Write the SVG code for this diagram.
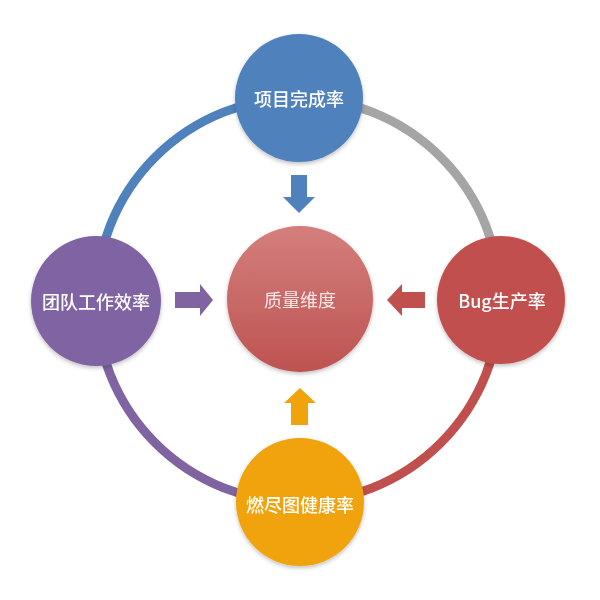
<svg xmlns="http://www.w3.org/2000/svg" width="600" height="600" viewBox="0 0 600 600">
<defs>
<linearGradient id="cg" x1="0" y1="0" x2="0" y2="1">
<stop offset="0" stop-color="#d47f7d"/>
<stop offset="1" stop-color="#bd5351"/>
</linearGradient>
<filter id="sh" x="-20%" y="-20%" width="140%" height="140%">
<feGaussianBlur in="SourceAlpha" stdDeviation="2"/>
<feOffset dx="0" dy="2" result="b"/>
<feComponentTransfer><feFuncA type="linear" slope="0.25"/></feComponentTransfer>
<feMerge><feMergeNode/><feMergeNode in="SourceGraphic"/></feMerge>
</filter>
</defs>
<style>
.arc{fill:none;stroke-width:9}
.lbl{font-family:"Noto Sans CJK SC","Liberation Sans",sans-serif;font-size:18px;font-weight:500;fill:#ffffff;text-anchor:middle;dominant-baseline:central}
.ctr{fill:#fbe9e8;font-weight:400}
</style>
<rect width="600" height="600" fill="#ffffff"/>
<g id="connectors">
<path class="arc" stroke="#4f81bd" d="M96,300 A202,202 0 0 1 298,98"/>
<path class="arc" stroke="#a5a5a5" d="M298,98 A202,202 0 0 1 500,300"/>
<path class="arc" stroke="#c0504d" d="M500,300 A202,202 0 0 1 298,502"/>
<path class="arc" stroke="#8064a2" d="M298,502 A202,202 0 0 1 96,300"/>
<polygon fill="#4f81bd" points="291,175 307,175 307,197 315,197 299,213 283,197 291,197"/>
<polygon fill="#8064a2" points="175,292 200,292 200,284 213,300 200,316 200,308 175,308"/>
<polygon fill="#c0504d" points="425,292 402,292 402,284 387,300 402,316 402,308 425,308"/>
<polygon fill="#f0a30a" points="291,425 308,425 308,403 316,403 300,388 284,403 291,403"/>
</g>
<g id="center" filter="url(#sh)">
<circle cx="300" cy="299" r="73" fill="url(#cg)"/>
<text class="lbl ctr" x="300" y="299">质量维度</text>
</g>
<g id="top" filter="url(#sh)">
<circle cx="299" cy="98" r="64" fill="#4f81bd"/>
<text class="lbl" x="299" y="98">项目完成率</text>
</g>
<g id="left" filter="url(#sh)">
<circle cx="96" cy="301" r="65" fill="#8064a2"/>
<text class="lbl" x="96" y="301">团队工作效率</text>
</g>
<g id="right" filter="url(#sh)">
<circle cx="501" cy="300" r="64" fill="#c0504d"/>
<text class="lbl" x="502" y="300">Bug生产率</text>
</g>
<g id="bottom" filter="url(#sh)">
<circle cx="300" cy="502" r="64" fill="#f0a30a"/>
<text class="lbl" x="300" y="504">燃尽图健康率</text>
</g>
</svg>
